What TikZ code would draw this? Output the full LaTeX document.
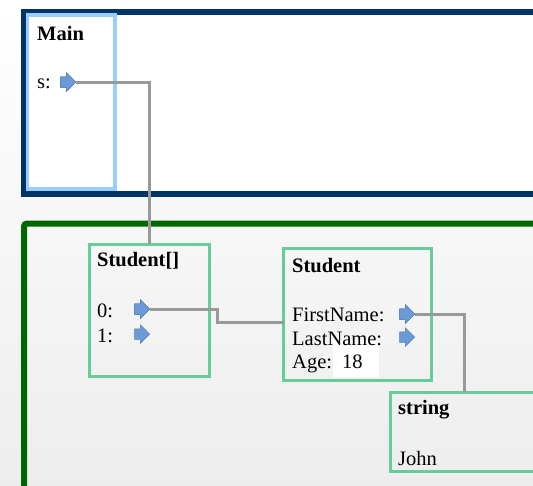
\documentclass[tikz,border=0pt]{standalone}
\usepackage{fontspec}
\setmainfont{Liberation Serif}
\usetikzlibrary{shapes.arrows}
\definecolor{stackblue}{RGB}{0,51,102}
\definecolor{framelight}{RGB}{153,204,255}
\definecolor{heapgreen}{RGB}{0,102,0}
\definecolor{objgreen}{RGB}{102,204,153}
\definecolor{ptrfill}{RGB}{108,154,214}
\definecolor{ptrline}{RGB}{79,129,189}
\definecolor{linkgray}{RGB}{153,153,153}

\begin{document}
\begin{tikzpicture}[x=1pt,y=-1pt,line join=miter]
	\tikzstyle{box}=[anchor=north west,inner sep=0pt,outer sep=0pt];
	\tikzstyle{obj}=[box,draw=objgreen,line width=3pt];
	\tikzstyle{txt}=[anchor=base west,inner sep=0pt,font=\fontsize{20.5}{24}\selectfont];
	\tikzstyle{title}=[txt,font=\fontsize{20.5}{24}\selectfont\bfseries];
	\tikzstyle{ptr}=[single arrow,anchor=tip,fill=ptrfill,draw=ptrline,line width=.5pt,
		minimum height=15pt,minimum width=18pt,inner xsep=1pt,inner ysep=5pt,single arrow head extend=4pt];
	\tikzstyle{link}=[draw=linkgray,line width=3pt];
	\useasboundingbox (0,0) rectangle (533,485);
	\clip (0,0) rectangle (533,485);
	\shade[top color=white,bottom color=black!7] (0,0) rectangle (533,485);
	% stack
	\node[box,draw=stackblue,fill=white,line width=6pt,minimum width=540pt,minimum height=182pt] (stack) at (24,11.5) {};
	\node[box,draw=framelight,line width=3.5pt,minimum width=87.5pt,minimum height=174pt] (main) at (27.5,15) {};
	\node[title] (tMain) at (37,40) {Main};
	\node[txt] (tS) at (37,88) {s:};
	% heap
	\node[box,draw=heapgreen,line width=6pt,rounded corners=3pt,minimum width=540pt,minimum height=300pt] (heap) at (24,223.5) {};
	\node[obj,minimum width=120pt,minimum height=132pt] (arr) at (89,244) {};
	\node[title] (tArr) at (97,266) {Student[]};
	\node[txt] (t0) at (97,317) {0:};
	\node[txt] (t1) at (97,342) {1:};
	\node[obj,minimum width=147.5pt,minimum height=131.5pt] (stud) at (283.5,248.5) {};
	\node[box,fill=white,minimum width=46pt,minimum height=37pt] (ageval) at (333,340) {};
	\node[title] (tStud) at (292,272) {Student};
	\node[txt] (tFirst) at (292,321) {FirstName:};
	\node[txt] (tLast) at (292,345) {LastName:};
	\node[txt] (tAge) at (292,368) {Age:};
	\node[txt] (tAgeVal) at (342,368) {18};
	\node[obj,minimum width=148pt,minimum height=79pt] (str) at (390,392) {};
	\node[title] (tStr) at (398,414) {string};
	\node[txt] (tJohn) at (398,465) {John};
	% pointers
	\node[ptr] (pS) at (76,82) {};
	\node[ptr] (p0) at (150,309) {};
	\node[ptr] (p1) at (150,334) {};
	\node[ptr] (pFirst) at (415,314) {};
	\node[ptr] (pLast) at (415,337) {};
	\draw[link] (pS.tip) -| (arr.north);
	\draw[link] (p0.tip) -- ++(67,0) |- ([yshift=-7.75pt]stud.west);
	\draw[link] (pFirst.tip) -| (str.north);
	\node[ptr] at (pS.tip) {};
	\node[ptr] at (p0.tip) {};
	\node[ptr] at (pFirst.tip) {};
\end{tikzpicture}
\end{document}
